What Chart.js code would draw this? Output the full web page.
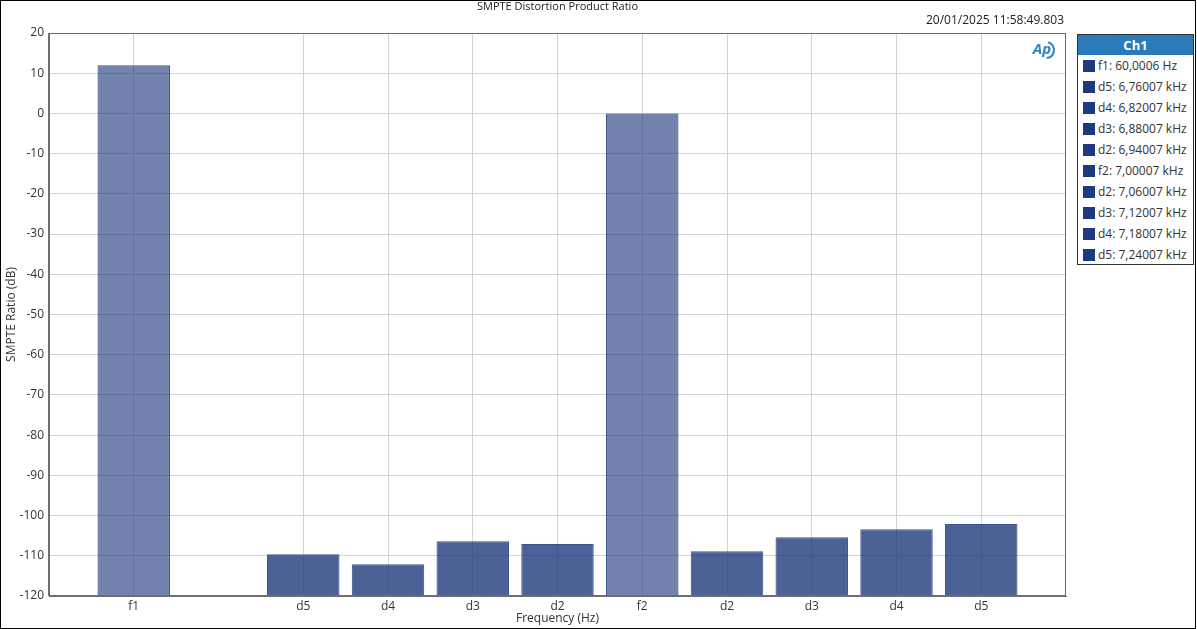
<!DOCTYPE html>
<html>
<head>
<meta charset="utf-8">
<script src="https://cdn.jsdelivr.net/npm/chart.js@4.4.1/dist/chart.umd.min.js"></script>
<style>
  html, body { margin: 0; padding: 0; background: #fff; }
  #wrap { position: relative; width: 1197px; height: 629px; overflow: hidden; font-family: "Open Sans", "Noto Sans", sans-serif; }
  #frame { position: absolute; left: 0; top: 0; width: 1196px; height: 629px; border: 1px solid #000; box-sizing: border-box; pointer-events: none; }
  #chart { position: absolute; left: 0; top: 0; }
  #legend { position: absolute; left: 1077px; top: 34px; width: 117px; height: 231px; border: 1px solid #333; box-sizing: border-box; background: #fff; }
  #legend .hdr { background: #2b7bba; color: #fff; font-weight: bold; font-size: 13px; height: 20px; line-height: 20px; text-align: center; }
  #legend .item { height: 21px; line-height: 21px; font-size: 12px; color: #333; padding-left: 5px; white-space: nowrap; }
  #legend .sw { display: inline-block; width: 12px; height: 12px; background: #1b3a80; vertical-align: -2px; margin-right: 3px; }
</style>
</head>
<body>
<div id="wrap">
  <canvas id="chart" width="1197" height="629"></canvas>
  <div id="legend"></div>
  <div id="frame"></div>
</div>
<script>
// ---- data ----
const chartTitle = 'SMPTE Distortion Product Ratio';
const timestamp = '20/01/2025 11:58:49.803';
const categories = ['', 'f1', '', 'd5', 'd4', 'd3', 'd2', 'f2', 'd2', 'd3', 'd4', 'd5', ''];
const ratioDb = [null, 12.0, null, -109.6, -112.1, -106.4, -107.1, 0.0, -108.9, -105.4, -103.4, -102.1, null];
const yTicks = [-120, -110, -100, -90, -80, -70, -60, -50, -40, -30, -20, -10, 0, 10, 20];
const legendTitle = 'Ch1';
const legendLabels = ['f1: 60,0006 Hz', 'd5: 6,76007 kHz', 'd4: 6,82007 kHz', 'd3: 6,88007 kHz', 'd2: 6,94007 kHz',
                      'f2: 7,00007 kHz', 'd2: 7,06007 kHz', 'd3: 7,12007 kHz', 'd4: 7,18007 kHz', 'd5: 7,24007 kHz'];

// ---- legend (HTML) ----
const lg = document.getElementById('legend');
const hdr = document.createElement('div'); hdr.className = 'hdr'; hdr.textContent = legendTitle; lg.appendChild(hdr);
legendLabels.forEach(t => {
  const it = document.createElement('div'); it.className = 'item';
  const sw = document.createElement('span'); sw.className = 'sw';
  it.appendChild(sw); it.appendChild(document.createTextNode(t)); lg.appendChild(it);
});

const FONT = '"Open Sans", "Noto Sans", sans-serif';
const fundColor = 'rgba(26,53,121,0.61)';
const distColor = 'rgba(26,53,121,0.78)';

const decor = {
  id: 'decor',
  afterDraw(chart) {
    const {ctx, chartArea: a} = chart;
    ctx.save();
    ctx.strokeStyle = '#6e6e6e'; ctx.lineWidth = 1;
    ctx.strokeRect(Math.round(a.left) - 0.5, Math.round(a.top) + 0.5, Math.round(a.right - a.left), Math.round(a.bottom - a.top) - 1);
    ctx.fillStyle = '#222';
    ctx.font = '11px ' + FONT;
    ctx.textAlign = 'center'; ctx.textBaseline = 'middle';
    ctx.fillText(chartTitle, (a.left + a.right) / 2, 7);
    ctx.font = '12px ' + FONT;
    ctx.textAlign = 'right';
    ctx.fillText(timestamp, a.right - 2, 21);
    // AP logo
    ctx.fillStyle = '#2f86c8'; ctx.strokeStyle = '#2f86c8';
    ctx.font = 'italic bold 15px ' + FONT;
    ctx.textAlign = 'center';
    ctx.fillText('Ap', 1042, 50);
    ctx.lineWidth = 2;
    ctx.beginPath(); ctx.arc(1046, 50, 8, -1.3, 1.5); ctx.stroke();
    ctx.restore();
  }
};

new Chart(document.getElementById('chart'), {
  type: 'bar',
  data: {
    labels: categories,
    datasets: [{
      data: ratioDb,
      base: yTicks[0],
      backgroundColor: categories.map(c => c.startsWith('f') ? fundColor : distColor),
      borderColor: 'rgba(26,53,121,0.85)',
      borderWidth: 1,
      barPercentage: 0.855,
      categoryPercentage: 1.0
    }]
  },
  options: {
    responsive: false,
    animation: false,
    layout: { padding: { top: 33, right: 131, left: 0, bottom: 0 } },
    plugins: { legend: { display: false }, title: { display: false }, tooltip: { enabled: false } },
    scales: {
      x: {
        offset: false,
        grid: { offset: false, drawTicks: false, color: ctx => (ctx.tick && ctx.tick.label === '') ? 'rgba(0,0,0,0)' : '#d3d3d3' },
        border: { color: '#6e6e6e' },
        ticks: { autoSkip: false, maxRotation: 0, padding: 3, color: '#333', font: { family: FONT, size: 12 } },
        title: { display: true, text: 'Frequency (Hz)', color: '#333', font: { family: FONT, size: 12 }, padding: { top: 0, bottom: 3 } },
        afterFit: s => { s.height = 33; }
      },
      y: {
        min: yTicks[0], max: yTicks[yTicks.length - 1],
        afterBuildTicks: s => { s.ticks = yTicks.map(v => ({ value: v })); },
        grid: { drawTicks: false, color: '#d3d3d3' },
        border: { color: '#6e6e6e' },
        ticks: { padding: 5, color: '#333', font: { family: FONT, size: 12 } },
        title: { display: true, text: 'SMPTE Ratio (dB)', color: '#333', font: { family: FONT, size: 12 }, padding: { top: 4, bottom: 0 } },
        afterFit: s => { s.width = 49; }
      }
    }
  },
  plugins: [decor]
});
</script>
</body>
</html>
